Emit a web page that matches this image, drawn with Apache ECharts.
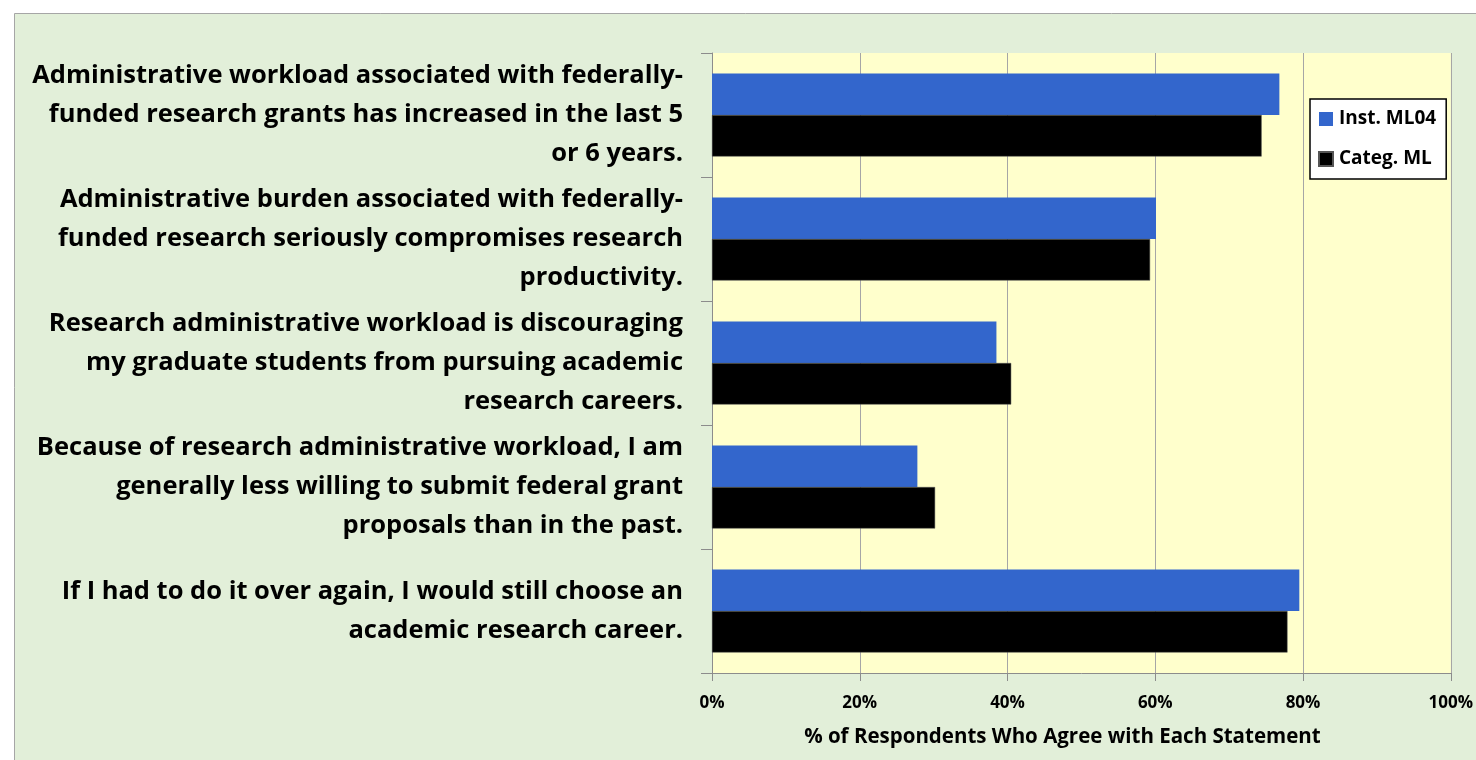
<!DOCTYPE html>
<html><head><meta charset="utf-8">
<script src="https://cdn.jsdelivr.net/npm/echarts@6/dist/echarts.min.js"></script>
<style>html,body{margin:0;padding:0;background:#fff}#c{width:1476px;height:760px}</style>
</head><body><div id="c"></div>
<script>
const categories = [
  "Administrative workload associated with federally-\nfunded research grants has increased in the last 5\nor 6 years.",
  "Administrative burden associated with federally-\nfunded research seriously compromises research\nproductivity.",
  "Research administrative workload is discouraging\nmy graduate students from pursuing academic\nresearch careers.",
  "Because of research administrative workload, I am\ngenerally less willing to submit federal grant\nproposals than in the past.",
  "If I had to do it over again, I would still choose an\nacademic research career."
];
const instML04 = [76.8, 60.1, 38.5, 27.8, 79.5];
const categML = [74.4, 59.3, 40.5, 30.2, 77.9];
const seriesNames = ["Inst. ML04", "Categ. ML"];

const chart = echarts.init(document.getElementById('c'), null, {renderer: 'canvas'});
const F = '"Open Sans", Lato, sans-serif';
chart.setOption({
  backgroundColor: '#ffffff',
  animation: false,
  graphic: [{
    type: 'rect', z: -10, silent: true,
    shape: {x: 14.5, y: 13.5, width: 1480, height: 760},
    style: {fill: '#e2efd9', stroke: '#a6a6a6', lineWidth: 1}
  }],
  grid: {left: 712, top: 53, right: 21, bottom: 87, show: true, backgroundColor: '#ffffcc', borderWidth: 0},
  legend: {
    data: seriesNames,
    orient: 'vertical',
    left: 1310, top: 99,
    backgroundColor: '#ffffff',
    borderColor: '#000000', borderWidth: 1.5,
    padding: [10, 10, 10, 8],
    itemGap: 20,
    itemWidth: 14, itemHeight: 14,
    icon: 'rect',
    textStyle: {fontFamily: F, fontWeight: 'bold', fontSize: 19, lineHeight: 20, color: '#000', padding: [0, 0, 0, 1]}
  },
  xAxis: {
    type: 'value', min: 0, max: 100, interval: 20,
    axisLine: {show: true, lineStyle: {color: '#8c8c8c', width: 1}},
    axisTick: {show: true, length: 8, lineStyle: {color: '#8c8c8c'}},
    splitLine: {show: true, lineStyle: {color: '#a6a6a6', width: 1}},
    axisLabel: {formatter: v => v + '%', fontFamily: F, fontWeight: 'bold', fontSize: 17, color: '#000', margin: 22},
    name: '% of Respondents Who Agree with Each Statement',
    nameLocation: 'middle', nameGap: 54,
    nameTextStyle: {fontFamily: F, fontWeight: 'bold', fontSize: 20.5, color: '#000', padding: [0, 38, 0, 0]}
  },
  yAxis: {
    type: 'category', data: categories, inverse: true,
    axisLine: {show: true, lineStyle: {color: '#8c8c8c', width: 1}},
    axisTick: {show: true, length: 11, lineStyle: {color: '#8c8c8c'}},
    axisLabel: {fontFamily: F, fontWeight: 'bold', fontSize: 25.5, color: '#000', lineHeight: 39, margin: 29, align: 'right'}
  },
  series: [
    {name: seriesNames[0], type: 'bar', data: instML04, barGap: '0%', barCategoryGap: '33%',
     itemStyle: {color: '#3366cc'}},
    {name: seriesNames[1], type: 'bar', data: categML, barGap: '0%', barCategoryGap: '33%',
     itemStyle: {color: '#000000', borderColor: '#555', borderWidth: 0.5}}
  ]
});
</script></body></html>
